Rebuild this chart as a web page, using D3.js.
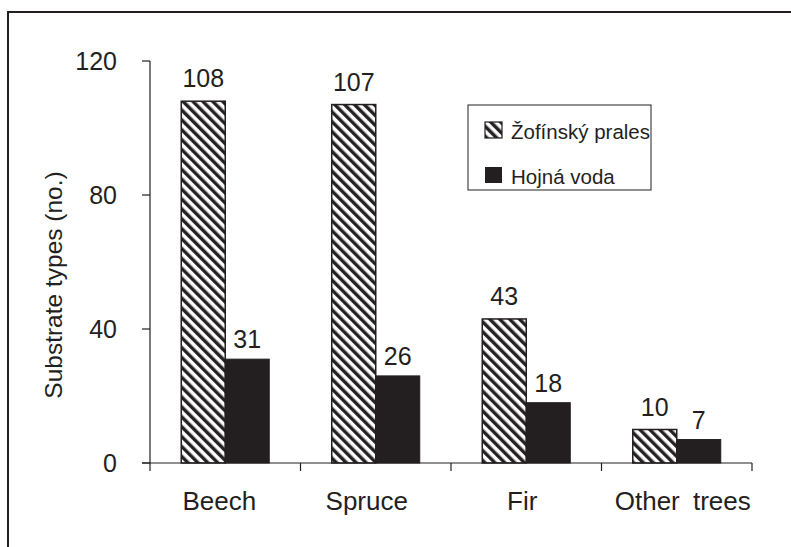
<!DOCTYPE html>
<html><head><meta charset="utf-8">
<script src="https://cdn.jsdelivr.net/npm/d3@7"></script>
<style>body{margin:0;background:#fff}svg{display:block}text{font-family:"Liberation Sans",Arial,sans-serif;fill:#231f20}</style>
</head><body>
<svg id="c" width="791" height="547"></svg>
<script>
const categories = ["Beech","Spruce","Fir","Other trees"];
const seriesNames = ["Žofínský prales","Hojná voda"];
const zofin = [108,107,43,10];
const hojna = [31,26,18,7];
const yTicks = [0,40,80,120];

const svg = d3.select("#c");
const ink = "#231f20";
const defs = svg.append("defs");
const pat = defs.append("pattern").attr("id","hatch").attr("patternUnits","userSpaceOnUse")
  .attr("width",7).attr("height",7).attr("patternTransform","rotate(-45)");
pat.append("rect").attr("width",7).attr("height",7).attr("fill","#fff");
pat.append("line").attr("x1",1.75).attr("x2",1.75).attr("y1",0).attr("y2",7).attr("stroke",ink).attr("stroke-width",3.4);

// outer frame
svg.append("rect").attr("x",8).attr("y",12).attr("width",800).attr("height",560)
  .attr("fill","none").attr("stroke",ink).attr("stroke-width",2);

const x = d3.scaleBand().domain(categories).range([150,752]);
const y = d3.scaleLinear().domain([0,120]).range([463,61]);
const barW = 44;
const labelNudge = [-6,-9,-4,6];

// y axis
const ya = svg.append("g");
ya.append("line").attr("x1",150).attr("x2",150).attr("y1",y(120)).attr("y2",y(0)).attr("stroke",ink).attr("stroke-width",1.2);
yTicks.forEach(t=>{
  ya.append("line").attr("x1",142).attr("x2",150).attr("y1",y(t)).attr("y2",y(t)).attr("stroke",ink).attr("stroke-width",1.2);
  ya.append("text").attr("x",117).attr("y",y(t)+9).attr("text-anchor","end").attr("font-size",25).text(t);
});
svg.append("text").attr("transform","translate(62,285) rotate(-90)").attr("text-anchor","middle")
  .attr("font-size",24.5).text("Substrate types (no.)");

// bars
const g = svg.append("g");
categories.forEach((c,i)=>{
  const cx = x(c)+x.bandwidth()/2;
  g.append("rect").attr("x",cx-barW).attr("y",y(zofin[i])).attr("width",barW).attr("height",y(0)-y(zofin[i]))
    .attr("fill","url(#hatch)").attr("stroke",ink).attr("stroke-width",1.5);
  g.append("rect").attr("x",cx).attr("y",y(hojna[i])).attr("width",barW).attr("height",y(0)-y(hojna[i]))
    .attr("fill",ink).attr("stroke",ink).attr("stroke-width",1);
  g.append("text").attr("x",cx-barW/2).attr("y",y(zofin[i])-14).attr("text-anchor","middle").attr("font-size",25).text(zofin[i]);
  g.append("text").attr("x",cx+barW/2).attr("y",y(hojna[i])-11).attr("text-anchor","middle").attr("font-size",25).text(hojna[i]);
});

// x axis
const xa = svg.append("g");
xa.append("line").attr("x1",142).attr("x2",752).attr("y1",y(0)).attr("y2",y(0)).attr("stroke",ink).attr("stroke-width",1.2);
const bounds = categories.map(c=>x(c)).concat([x.range()[1]]);
bounds.forEach(b=>{
  xa.append("line").attr("x1",b).attr("x2",b).attr("y1",y(0)).attr("y2",y(0)+8).attr("stroke",ink).attr("stroke-width",1.2);
});
categories.forEach((c,i)=>{
  xa.append("text").attr("x",x(c)+x.bandwidth()/2+labelNudge[i]).attr("y",510).attr("text-anchor","middle").attr("font-size",26)
    .attr("word-spacing",c==="Other trees"?6:0).text(c);
});

// legend
const lg = svg.append("g");
lg.append("rect").attr("x",468).attr("y",105).attr("width",183).attr("height",85).attr("fill","#fff").attr("stroke",ink).attr("stroke-width",1);
lg.append("rect").attr("x",485).attr("y",122).attr("width",17).attr("height",16).attr("fill","url(#hatch)").attr("stroke",ink).attr("stroke-width",1.2);
lg.append("rect").attr("x",485).attr("y",167).attr("width",17).attr("height",16).attr("fill",ink);
lg.append("text").attr("x",511).attr("y",139).attr("font-size",20.5).text(seriesNames[0]);
lg.append("text").attr("x",511).attr("y",184).attr("font-size",20.5).text(seriesNames[1]);
</script>
</body></html>
